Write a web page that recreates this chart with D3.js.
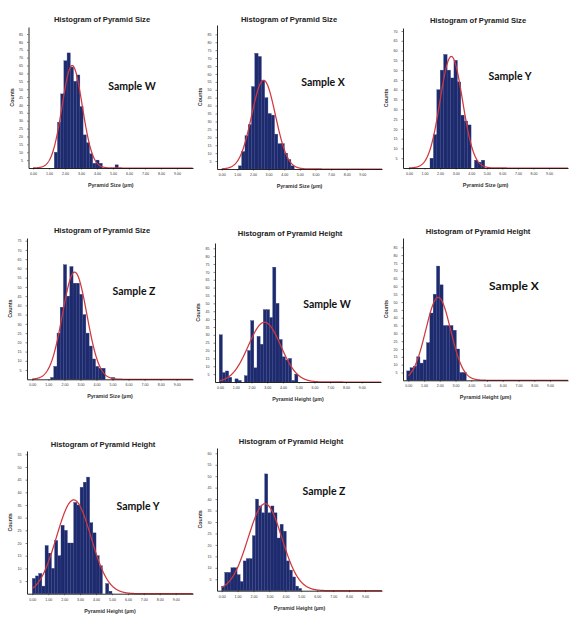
<!DOCTYPE html>
<meta charset="utf-8">
<style>
    html, body { margin: 0; background: #fff; }
    svg { display: block; }
    .title { font-family: "Liberation Sans", Arial, sans-serif; font-weight: bold; font-size: 7.6px; fill: #222; }
    .axis-title { font-family: "Liberation Sans", Arial, sans-serif; font-weight: bold; font-size: 5.3px; fill: #333; }
    .sample { font-family: Lato, "Open Sans", sans-serif; font-weight: bold; font-size: 10px; fill: #111; }
    .axis text { font-family: "Liberation Sans", Arial, sans-serif; font-size: 3.6px; fill: #333; }
    .axis path, .axis line { stroke: #111; }
</style>
<div id="chart"></div>
<script src="https://cdnjs.cloudflare.com/ajax/libs/d3/7.8.5/d3.min.js"></script>
<script>
    // histogram counts, one array per panel
    var sizeW = [10, 29, 47, 68, 73, 64, 55, 59, 39, 21, 16, 9, 3, 5, 3, 0, 0, 0, 0, 2];
    var sizeX = [2, 11, 21, 28, 52, 73, 71, 56, 45, 35, 34, 22, 16, 16, 10, 6, 2];
    var sizeY = [5, 17, 40, 50, 58, 50, 46, 55, 44, 27, 24, 22, 0, 4, 3, 4];
    var sizeZ = [1, 7, 25, 39, 62, 45, 61, 52, 52, 46, 35, 25, 18, 11, 7, 6, 6, 0, 0, 1];
    var heightW = [30, 6, 7, 3, 0, 2, 1, 0, 4, 20, 39, 9, 29, 24, 46, 46, 41, 73, 50, 27, 16, 14, 15, 1, 5];
    var heightX = [6, 8, 9, 15, 11, 13, 24, 43, 55, 73, 61, 35, 35, 35, 32, 20, 5, 5];
    var heightY = [6, 7, 8, 3, 19, 16, 10, 21, 15, 27, 25, 20, 20, 36, 35, 42, 44, 46, 28, 24, 15, 11, 0, 4, 1];
    var heightZ = [2, 8, 8, 10, 10, 7, 4, 13, 14, 14, 24, 40, 37, 34, 51, 34, 37, 34, 23, 29, 26, 13, 9, 6, 2, 1];

    // bin edges (first edge, width) per panel
    var binStart = [1.33, 1.07, 1.35, 1.14, -0.05, -0.1, 0.0, 0.0];
    var binWidth = [0.2, 0.21, 0.22, 0.2, 0.2, 0.21, 0.2, 0.193];

    // fitted normal curve per panel (mean, sd, peak height)
    var fitMean = [2.45, 2.68, 2.72, 2.64, 2.83, 1.9, 2.6, 2.72];
    var fitSd = [0.63, 0.76, 0.72, 0.76, 1.03, 0.79, 1.08, 1.06];
    var fitPeak = [65, 56, 57, 58, 38, 53, 37, 38];

    var yTickMax = [85, 85, 70, 75, 85, 85, 55, 60];
    var xTicks = d3.range(0, 10);

    var titles = ["Histogram of Pyramid Size", "Histogram of Pyramid Size", "Histogram of Pyramid Size",
        "Histogram of Pyramid Size", "Histogram of Pyramid Height", "Histogram of Pyramid Height",
        "Histogram of Pyramid Height", "Histogram of Pyramid Height"];
    var xLabels = ["Pyramid Size (µm)", "Pyramid Size (µm)", "Pyramid Size (µm)", "Pyramid Size (µm)",
        "Pyramid Height (µm)", "Pyramid Height (µm)", "Pyramid Height (µm)", "Pyramid Height (µm)"];
    var samples = ["Sample W", "Sample X", "Sample Y", "Sample Z", "Sample W", "Sample X", "Sample Y", "Sample Z"];
    var counts = [sizeW, sizeX, sizeY, sizeZ, heightW, heightX, heightY, heightZ];

    // pixel geometry of each panel: y-axis x, x-axis end, pixel of 0 count, pixel of top tick,
    // top of y-axis, pixel of x=0 and x=9, title centre, sample label centre
    var layout = [
        {ax: 28.5, xe: 193, y0: 168, yt: 34, top: 27, x0: 33, x9: 177, tx: 102, ty: 19, sx: 132, sy: 86, ss: 10.5},
        {ax: 217, xe: 382, y0: 169, yt: 34.3, top: 25, x0: 221.7, x9: 362.3, tx: 289, ty: 19, sx: 323, sy: 82, ss: 10.5},
        {ax: 403, xe: 568, y0: 168, yt: 31, top: 28, x0: 409, x9: 549, tx: 478, ty: 20, sx: 510, sy: 76, ss: 10.5},
        {ax: 27, xe: 193, y0: 379.3, yt: 240.7, top: 238, x0: 32.3, x9: 176.7, tx: 102, ty: 230, sx: 134, sy: 291, ss: 10.5},
        {ax: 215, xe: 381, y0: 382, yt: 248.3, top: 243, x0: 220, x9: 361.7, tx: 290, ty: 233, sx: 327, sy: 304, ss: 10.5},
        {ax: 403, xe: 568, y0: 380.3, yt: 247.3, top: 238, x0: 408.3, x9: 550, tx: 478, ty: 231, sx: 514, sy: 286, ss: 12},
        {ax: 27, xe: 193, y0: 593.7, yt: 454.3, top: 451, x0: 32.3, x9: 175.7, tx: 103, ty: 444, sx: 138, sy: 506, ss: 10.5},
        {ax: 217, xe: 382, y0: 590.7, yt: 453.3, top: 448, x0: 221.7, x9: 365, tx: 291, ty: 441, sx: 324, sy: 491, ss: 10.5}
    ];

    var svg = d3.select("#chart").append("svg")
        .attr("width", 583)
        .attr("height", 626);

    layout.forEach(function(L, p) {
        var g = svg.append("g");

        // x scale: 0..9 mapped on the ticks, then stretched to the axis ends
        var x = d3.scaleLinear().domain([0, 9]).range([L.x0, L.x9]);
        x.domain([x.invert(L.ax), x.invert(L.xe)]).range([L.ax, L.xe]);
        var y = d3.scaleLinear().domain([0, yTickMax[p]]).range([L.y0, L.yt]);
        y.domain([0, y.invert(L.top)]).range([L.y0, L.top]);

        // bars
        var bins = counts[p].map(function(c, i) {
            return {x0: binStart[p] + i * binWidth[p], x1: binStart[p] + (i + 1) * binWidth[p], n: c};
        }).filter(function(d) { return d.n > 0; });
        g.selectAll("rect.bar")
            .data(bins)
            .enter().append("rect")
            .attr("class", "bar")
            .attr("x", function(d) { return x(d.x0); })
            .attr("width", function(d) { return x(d.x1) - x(d.x0); })
            .attr("y", function(d) { return y(d.n); })
            .attr("height", function(d) { return y(0) - y(d.n); })
            .attr("fill", "#1d2a6c")
            .attr("stroke", "#34428a")
            .attr("stroke-width", 0.35);

        // normal fit
        var xs = d3.range(0, x.domain()[1], 0.02);
        var line = d3.line()
            .x(function(d) { return x(d); })
            .y(function(d) {
                var z = (d - fitMean[p]) / fitSd[p];
                return y(fitPeak[p] * Math.exp(-0.5 * z * z));
            });
        g.append("path")
            .datum(xs)
            .attr("d", line)
            .attr("fill", "none")
            .attr("stroke", "#d0383f")
            .attr("stroke-width", 1.25);

        // axes
        g.append("g")
            .attr("class", "axis")
            .attr("transform", "translate(0," + L.y0 + ")")
            .call(d3.axisBottom(x).tickValues(xTicks).tickFormat(d3.format(".2f")).tickSizeInner(1.5).tickSizeOuter(0).tickPadding(3));
        g.append("g")
            .attr("class", "axis")
            .attr("transform", "translate(" + L.ax + ",0)")
            .call(d3.axisLeft(y).tickValues(d3.range(5, yTickMax[p] + 1, 5)).tickSizeInner(1.5).tickSizeOuter(0).tickPadding(4));
        g.selectAll(".axis path").attr("stroke-width", 0.9);
        g.selectAll(".axis line").attr("stroke-width", 0.5);

        // texts
        g.append("text")
            .attr("class", "title")
            .attr("x", L.tx)
            .attr("y", L.ty + 2.7)
            .attr("text-anchor", "middle")
            .text(titles[p]);
        g.append("text")
            .attr("class", "axis-title")
            .attr("x", (L.ax + L.xe) / 2)
            .attr("y", L.y0 + 19)
            .attr("text-anchor", "middle")
            .text(xLabels[p]);
        g.append("text")
            .attr("class", "axis-title")
            .attr("transform", "translate(" + (L.ax - 15) + "," + ((L.y0 + L.top) / 2) + ") rotate(-90)")
            .attr("text-anchor", "middle")
            .text("Counts");
        g.append("text")
            .attr("class", "sample")
            .attr("x", L.sx)
            .attr("y", L.sy + L.ss * 0.35)
            .attr("text-anchor", "middle")
            .style("font-size", L.ss + "px")
            .text(samples[p]);
    });
</script>
